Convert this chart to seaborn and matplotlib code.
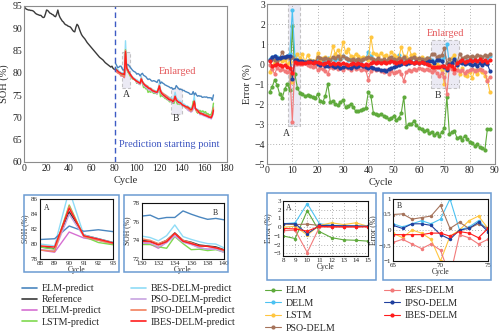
import numpy as np
import pandas as pd
import matplotlib
matplotlib.use("Agg")
import matplotlib.pyplot as plt
from matplotlib.lines import Line2D
from matplotlib.patches import Rectangle
import seaborn as sns

# ---------------- data ----------------
# SOH reference, cycles 1..80 (training history)
soh_history = [94.6, 94.3, 94.2, 94.1, 94.1, 94.0, 94.0, 93.9, 93.7, 93.4,
               93.2, 93.1, 93.0, 92.9, 92.9, 92.6, 92.4, 92.5, 93.2, 94.1,
               94.0, 93.7, 93.4, 93.3, 93.1, 93.0, 92.7, 92.6, 93.2, 94.1,
               93.0, 92.4, 92.0, 91.6, 91.4, 91.0, 90.8, 90.7, 90.5, 90.4,
               90.3, 90.0, 89.6, 89.3, 89.2, 90.2, 90.9, 90.6, 89.9, 89.2,
               88.6, 88.2, 87.9, 87.6, 87.2, 86.8, 86.5, 86.2, 85.9, 85.6,
               85.3, 85.0, 84.7, 84.4, 84.1, 83.8, 83.5, 83.3, 83.1, 82.9,
               82.6, 82.3, 82.1, 81.9, 81.7, 81.5, 81.3, 81.5, 81.0, 80.8]

# SOH reference, cycles 81..168 (test region)
soh_test = [80.8, 80.6, 80.4, 80.2, 80.0, 79.8, 79.7, 79.6, 79.4, 84.3,
            81.2, 80.7, 80.2, 79.8, 79.4, 79.1, 78.8, 78.6, 78.4, 78.2,
            78.0, 77.8, 77.7, 78.7, 78.0, 77.6, 77.3, 77.1, 76.9, 76.7,
            76.5, 76.4, 76.2, 76.0, 75.9, 75.8, 75.7, 75.6, 76.2, 77.0,
            76.0, 75.5, 75.2, 75.0, 74.8, 74.6, 74.4, 74.2, 74.1, 74.0,
            73.9, 73.6, 74.0, 74.8, 74.0, 73.8, 73.5, 73.4, 73.3, 73.0,
            72.8, 72.7, 72.5, 72.3, 72.2, 72.0, 71.8, 71.6, 71.8, 72.6,
            73.4, 72.0, 71.6, 71.4, 71.2, 71.1, 71.0, 70.9, 70.8, 70.7,
            70.6, 70.5, 70.4, 70.3, 70.2, 70.1, 70.6, 71.8]

# Prediction error (reference - prediction, %) for each model, test cycles 1..88
err_elm = [-1.40, -1.15, -0.80, -1.05, -1.50, -1.70, -1.25, -1.00, -1.30, 1.90,
           -0.50, -1.20, -1.45, -1.50, -1.60, -1.55, -1.60, -1.65, -1.70, -1.50,
           -1.85, -1.90, -1.60, -1.00, -1.90, -1.85, -2.00, -2.05, -1.90, -1.80,
           -2.15, -2.10, -2.00, -2.15, -2.35, -2.35, -2.30, -2.25, -2.20, -1.40,
           -1.60, -2.45, -2.50, -2.55, -2.50, -2.60, -2.65, -2.75, -2.70, -2.60,
           -2.80, -2.70, -2.45, -1.65, -3.15, -3.00, -3.00, -2.85, -3.05, -3.20,
           -3.25, -3.35, -3.30, -3.45, -3.40, -3.55, -3.45, -3.60, -3.40, -3.20,
           -1.65, -3.50, -3.40, -3.35, -3.70, -3.65, -3.80, -3.60, -3.75, -3.90,
           -3.95, -4.10, -4.00, -4.15, -4.20, -4.30, -3.25, -3.25]
err_delm = [0.25, 0.35, 0.40, 0.35, 0.30, 0.30, 0.35, 0.40, 0.50, 2.70,
            0.40, 0.20, 0.20, 0.10, 0.10, 0.15, 0.10, 0.15, 0.10, 0.25,
            0.20, 0.15, 0.20, 0.30, 0.25, 0.30, 0.20, 0.30, 0.25, 0.40,
            0.30, 0.20, 0.25, 0.15, 0.20, 0.20, 0.15, 0.25, 0.30, 0.60,
            0.40, 0.15, 0.20, 0.15, 0.10, 0.20, 0.10, 0.15, 0.20, 0.25,
            0.30, 0.45, 0.20, 0.30, 0.15, 0.20, 0.30, 0.35, 0.20, 0.25,
            0.20, 0.25, 0.20, 0.30, 0.20, 0.10, 0.20, 0.30, 0.20, 0.35,
            1.00, 0.00, 0.10, 0.30, 0.00, 0.15, 0.20, 0.10, 0.20, 0.15,
            0.20, 0.10, 0.15, 0.20, 0.10, 0.15, 0.30, 0.40]
err_lstm = [-0.40, -0.10, 0.10, 0.20, 0.25, 0.15, 0.20, 0.00, 0.10, -0.90,
            0.20, 0.50, 0.30, 0.50, 0.10, 0.45, 0.20, 0.15, 0.10, 0.55,
            0.20, 0.30, 0.35, 0.25, 0.30, 0.90, 0.50, 0.70, 0.40, 1.10,
            0.60, 0.75, 0.40, 0.35, 0.50, 0.40, 0.30, 0.35, 0.30, 0.20,
            1.35, 0.55, 0.50, 0.40, 0.55, 0.40, 0.45, 0.30, 0.60, 0.45,
            0.35, 0.30, 0.85, 0.40, 0.35, 0.80, 0.45, 0.50, 0.30, 0.25,
            0.35, 0.20, 0.30, 0.25, -0.10, -0.25, 0.00, -0.10, -0.30, -1.00,
            -0.20, 0.00, 0.30, 0.45, 0.05, -0.50, -0.20, -0.55, -0.60, -0.40,
            -0.70, -0.30, -0.50, -0.30, -0.40, -0.60, -0.80, -1.40]
err_pso = [0.20, 0.25, 0.20, 0.15, 0.30, 0.60, 0.35, 0.35, 0.30, 0.35,
           0.20, 0.15, 0.10, 0.10, 0.10, 0.15, 0.10, 0.15, 0.10, 0.35,
           0.30, 0.25, 0.30, 0.25, 0.20, 0.35, 0.30, 0.40, 0.25, 0.40,
           0.30, 0.25, 0.20, 0.25, 0.20, 0.25, 0.20, 0.25, 0.30, 0.35,
           0.30, 0.25, 0.20, 0.30, 0.20, 0.25, 0.15, 0.30, 0.35, 0.25,
           0.20, 0.30, 0.25, 0.35, 0.20, 0.25, 0.30, 0.35, 0.25, 0.30,
           0.25, 0.20, 0.30, 0.25, 0.50, 0.52, 0.35, 0.40, 0.45, 0.80,
           0.05, 0.25, 0.05, 0.20, 0.05, 0.50, 0.30, 0.35, 0.40, 0.35,
           0.40, 0.35, 0.45, 0.40, 0.35, 0.45, 0.40, 0.50]
err_bes = [-0.05, -0.25, -0.50, -0.20, -0.30, -0.25, -0.35, -0.40, -0.35, -2.90,
           0.00, 0.00, 0.00, 0.00, 0.05, -0.05, -0.10, -0.15, -0.10, -0.30,
           -0.20, -0.25, -0.35, -0.50, -0.15, -0.20, -0.10, -0.25, -0.20, -0.30,
           -0.15, -0.20, -0.30, -0.15, -0.25, -0.20, -0.30, -0.25, -0.30, -0.80,
           -0.35, -0.20, -0.30, -0.25, -0.35, -0.40, -0.30, -0.50, -0.35, -0.45,
           -0.40, -0.35, -0.50, -0.85, -0.40, -0.30, -0.35, -0.25, -0.30, -0.20,
           -0.25, -0.30, -0.25, -0.30, -0.40, -0.30, -0.45, -0.60, -0.45, -0.65,
           -1.50, -0.15, -0.25, -0.45, -0.30, -0.35, -0.30, -0.45, -0.35, -0.30,
           -0.25, -0.35, -0.30, -0.25, -0.30, -0.40, -0.85, -0.65]
err_ipso = [0.20, 0.35, 0.40, 0.30, 0.30, 0.35, 0.35, 0.40, 0.40, -0.75,
            0.20, 0.20, 0.15, 0.15, 0.10, 0.10, 0.15, 0.10, 0.10, 0.00,
            -0.05, 0.00, -0.10, -0.10, -0.05, -0.10, -0.15, -0.10, -0.20, -0.15,
            -0.10, -0.15, -0.20, -0.10, -0.15, -0.10, -0.05, -0.10, -0.15, -0.20,
            -0.15, -0.20, -0.25, -0.25, -0.30, -0.30, -0.35, -0.25, -0.20, -0.15,
            -0.10, -0.05, 0.00, 0.05, 0.00, 0.05, 0.10, 0.05, 0.10, 0.05,
            0.10, 0.05, 0.10, 0.15, 0.15, 0.05, 0.20, 0.20, 0.15, -0.15,
            -0.30, 0.00, 0.05, 0.25, -0.05, 0.10, 0.05, 0.00, 0.05, 0.00,
            -0.05, 0.00, -0.10, 0.05, -0.05, 0.05, 0.00, -0.35]
err_ibes = [0.15, -0.10, -0.05, 0.00, -0.05, -0.10, -0.05, -0.15, -0.20, -0.45,
            0.10, 0.05, 0.05, 0.05, 0.05, 0.10, 0.10, 0.05, 0.10, 0.10,
            0.05, 0.00, 0.05, 0.10, 0.00, 0.05, 0.00, 0.05, 0.00, 0.05,
            0.00, -0.05, 0.00, 0.05, 0.00, 0.05, 0.00, -0.05, 0.00, -0.05,
            0.05, 0.10, 0.05, 0.10, 0.05, 0.10, 0.05, 0.10, 0.15, 0.10,
            0.05, 0.10, 0.15, 0.05, 0.10, 0.15, 0.10, 0.05, 0.10, 0.05,
            0.10, 0.05, 0.00, -0.05, -0.15, -0.15, -0.15, -0.15, -0.10, -0.10,
            -0.20, -0.05, -0.10, -0.25, 0.05, 0.15, 0.20, 0.10, 0.15, 0.20,
            0.15, 0.20, 0.15, 0.25, 0.15, 0.20, 0.10, 0.20]

models = ["ELM", "DELM", "LSTM", "PSO-DELM", "BES-DELM", "IPSO-DELM", "IBES-DELM"]
errors = {"ELM": err_elm, "DELM": err_delm, "LSTM": err_lstm, "PSO-DELM": err_pso,
          "BES-DELM": err_bes, "IPSO-DELM": err_ipso, "IBES-DELM": err_ibes}

# colours of the SOH-prediction panel
soh_colors = {"ELM": "#4a86bf", "Reference": "#3a3a3a", "DELM": "#d66fd2",
              "LSTM": "#7fd94f", "BES-DELM": "#8fdcf6", "PSO-DELM": "#c7a3e0",
              "IPSO-DELM": "#f2805e", "IBES-DELM": "#ff1e1e"}
soh_order = ["ELM", "Reference", "DELM", "LSTM", "BES-DELM", "PSO-DELM",
             "IPSO-DELM", "IBES-DELM"]
# colours of the error panel
err_colors = {"ELM": "#5faa3c", "DELM": "#4cc2f2", "LSTM": "#ffc640",
              "PSO-DELM": "#a5735b", "BES-DELM": "#f27a7a",
              "IPSO-DELM": "#1f3f9e", "IBES-DELM": "#ff1c1c"}

# ---------------- tables ----------------
cyc_hist = np.arange(1, len(soh_history) + 1)
cyc_test = np.arange(len(soh_history) + 1, len(soh_history) + len(soh_test) + 1)
ref_all = pd.DataFrame({"cycle": np.concatenate([cyc_hist, cyc_test]),
                        "soh": soh_history + soh_test})
pred_frames = []
for m in models:
    pred_frames.append(pd.DataFrame({"cycle": cyc_test,
                                     "soh": np.array(soh_test) - np.array(errors[m]),
                                     "model": m}))
pred = pd.concat(pred_frames, ignore_index=True)
err_idx = np.arange(1, len(soh_test) + 1)
err = pd.concat([pd.DataFrame({"cycle": err_idx, "err": errors[m], "model": m})
                 for m in models], ignore_index=True)

# ---------------- style ----------------
sns.set_style("white")
plt.rcParams["font.family"] = ["Liberation Serif", "DejaVu Serif"]
plt.rcParams["mathtext.fontset"] = "stix"

W, H = 500, 333
fig = plt.figure(figsize=(W / 100, H / 100), dpi=100)


def px_axes(l, t, r, b):
    return fig.add_axes([l / W, 1 - b / H, (r - l) / W, (b - t) / H])


def style_axes(ax, spine_color, fs, grid=False):
    for s in ax.spines.values():
        s.set_color(spine_color)
        s.set_linewidth(0.8)
    ax.tick_params(direction="in", labelsize=fs, length=2, width=0.6,
                   pad=1.5, colors="#222222")
    if grid:
        ax.grid(True, linestyle=(0, (1, 2.5)), color="#9a9a9a", linewidth=0.6)
        ax.set_axisbelow(True)


def draw_soh(ax, lw):
    sns.lineplot(data=ref_all, x="cycle", y="soh", ax=ax,
                 color=soh_colors["Reference"], linewidth=lw, legend=False)
    for m in ["BES-DELM", "ELM", "DELM", "LSTM", "PSO-DELM", "IPSO-DELM", "IBES-DELM"]:
        sns.lineplot(data=pred[pred.model == m], x="cycle", y="soh", ax=ax,
                     color=soh_colors[m], linewidth=lw, legend=False)


def draw_err(ax, lw, ms):
    for m in models:
        sns.lineplot(data=err[err.model == m], x="cycle", y="err", ax=ax,
                     color=err_colors[m], linewidth=lw, marker="o",
                     markersize=ms, markeredgewidth=0, legend=False)


# ---------------- SOH main panel ----------------
ax1 = px_axes(24, 6, 227, 162)
draw_soh(ax1, 1.0)
ax1.set_xlim(0, 180)
ax1.set_ylim(60, 95)
ax1.set_xticks(range(0, 181, 20))
ax1.set_yticks(range(60, 96, 5))
style_axes(ax1, "#8c8c8c", 7)
ax1.set_xlabel("Cycle", fontsize=7.5, labelpad=2)
ax1.set_ylabel("SOH (%)", fontsize=7.5, labelpad=2)
ax1.axvline(81, color="#3d5bc4", linestyle=(0, (4, 2.5)), linewidth=1.0)
ax1.text(84, 63.4, "Prediction starting point", color="#3d55c0", fontsize=7.5)
for (x0, y0, w, h) in [(87, 76.6, 7, 8.0), (130, 70.8, 10, 5.8)]:
    ax1.add_patch(Rectangle((x0, y0), w, h, facecolor="#dcd9ec", alpha=0.55,
                            edgecolor="#9a9a9a", linestyle=(0, (3, 2)),
                            linewidth=0.8, zorder=0.5))
ax1.text(90.5, 75.2, "A", fontsize=7, ha="center", va="center", color="#333333")
ax1.text(135, 69.8, "B", fontsize=7, ha="center", va="center", color="#333333")
ax1.text(136, 80.4, "Enlarged", fontsize=7.5, ha="center", va="center",
         color="#e4585a")

# ---------------- error main panel ----------------
ax2 = px_axes(267, 4, 495, 164)
draw_err(ax2, 0.8, 3.0)
ax2.set_xlim(0, 90)
ax2.set_ylim(-5, 3)
ax2.set_xticks(range(0, 91, 10))
ax2.set_yticks(range(-5, 4, 1))
style_axes(ax2, "#8c8c8c", 7, grid=True)
ax2.set_xlabel("Cycle", fontsize=7.5, labelpad=2)
ax2.set_ylabel("Error (%)", fontsize=7.5, labelpad=2)
for (x0, y0, w, h) in [(8.4, -3.1, 4.5, 6.1), (64.8, -1.2, 11, 2.4)]:
    ax2.add_patch(Rectangle((x0, y0), w, h, facecolor="#dcd9ec", alpha=0.55,
                            edgecolor="#9a9a9a", linestyle=(0, (3, 2)),
                            linewidth=0.8, zorder=0.5))
ax2.text(7.8, -3.45, "A", fontsize=7, ha="center", va="center", color="#333333")
ax2.text(67.3, -1.6, "B", fontsize=7, ha="center", va="center", color="#333333")
ax2.text(70.5, 1.55, "Enlarged", fontsize=7.5, ha="center", va="center",
         color="#e4585a")

# ---------------- frames around the zoomed views ----------------
for (l, t, r, b) in [(24, 195, 119, 272), (124, 195, 228, 272),
                     (267, 193, 376, 280), (383, 193, 491, 280)]:
    fig.patches.append(Rectangle((l / W, 1 - b / H), (r - l) / W, (b - t) / H,
                                 transform=fig.transFigure, fill=False,
                                 edgecolor="#6b9bd2", linewidth=1.1))

# ---------------- SOH zoom A ----------------
axA = px_axes(40, 199, 113, 259)
draw_soh(axA, 1.0)
axA.set_xlim(88, 93)
axA.set_ylim(78, 86)
axA.set_xticks(range(88, 94))
axA.set_yticks(range(78, 87, 2))
style_axes(axA, "#111111", 5)
axA.set_xlabel("Cycle", fontsize=5.5, labelpad=0)
axA.set_ylabel("SOH (%)", fontsize=5.5, labelpad=1)
axA.text(0.05, 0.92, "A", transform=axA.transAxes, fontsize=5.5, va="top")

# ---------------- SOH zoom B ----------------
axB = px_axes(142, 203, 224, 259)
draw_soh(axB, 1.0)
axB.set_xlim(130, 140)
axB.set_ylim(72, 78)
axB.set_xticks(range(130, 141, 2))
axB.set_yticks(range(72, 79, 2))
style_axes(axB, "#111111", 5)
axB.set_xlabel("Cycle", fontsize=5.5, labelpad=0)
axB.set_ylabel("SOH (%)", fontsize=5.5, labelpad=1)
axB.text(0.93, 0.9, "B", transform=axB.transAxes, fontsize=5.5, va="top",
         ha="right")

# ---------------- error zoom A ----------------
axC = px_axes(283, 201, 368, 256)
draw_err(axC, 0.8, 2.5)
axC.set_xlim(8, 15)
axC.set_ylim(-3.3, 3)
axC.set_xticks(range(8, 16))
axC.set_yticks(range(-3, 4))
style_axes(axC, "#111111", 5, grid=True)
axC.set_xlabel("Cycle", fontsize=5.5, labelpad=0)
axC.set_ylabel("Error (%)", fontsize=5.5, labelpad=1)
axC.text(0.04, 0.95, "A", transform=axC.transAxes, fontsize=5.5, va="top")

# ---------------- error zoom B ----------------
axD = px_axes(393, 199, 488, 261)
draw_err(axD, 0.8, 2.5)
axD.set_xlim(65, 75)
axD.set_ylim(-1, 1)
axD.set_xticks([65, 70, 75])
axD.set_yticks([-1, -0.5, 0, 0.5, 1])
axD.set_yticklabels(["−1", "−0.5", "0", "0.5", "1"])
style_axes(axD, "#111111", 5, grid=True)
axD.set_xlabel("Cycle", fontsize=5.5, labelpad=0)
axD.set_ylabel("Error (%)", fontsize=5.5, labelpad=1)
axD.text(0.04, 0.95, "B", transform=axD.transAxes, fontsize=5.5, va="top")

# ---------------- legends ----------------
soh_labels = {"ELM": "ELM-predict", "Reference": "Reference",
              "DELM": "DELM-predict", "LSTM": "LSTM-predict",
              "BES-DELM": "BES-DELM-predict", "PSO-DELM": "PSO-DELM-predict",
              "IPSO-DELM": "IPSO-DELM-predict", "IBES-DELM": "IBES-DELM-predict"}
h1 = [Line2D([], [], color=soh_colors[k], linewidth=1.2) for k in soh_order]
fig.legend(h1, [soh_labels[k] for k in soh_order], ncol=2, frameon=False,
           loc="upper left", bbox_to_anchor=(22 / W, 1 - 284 / H),
           borderaxespad=0, borderpad=0, fontsize=7.2, handlelength=1.5,
           handletextpad=0.5, columnspacing=2.9, labelspacing=0.22)

err_order = ["ELM", "DELM", "LSTM", "PSO-DELM", "BES-DELM", "IPSO-DELM", "IBES-DELM"]
h2 = [Line2D([], [], color=err_colors[k], linewidth=0.8, marker="o",
             markersize=3, markeredgewidth=0) for k in err_order]
fig.legend(h2, err_order, ncol=2, frameon=False,
           loc="upper left", bbox_to_anchor=(265 / W, 1 - 286 / H),
           borderaxespad=0, borderpad=0, fontsize=7.2, handlelength=1.55,
           handletextpad=0.5, columnspacing=4.9, labelspacing=0.36)

fig.savefig("out.png", dpi=100)
